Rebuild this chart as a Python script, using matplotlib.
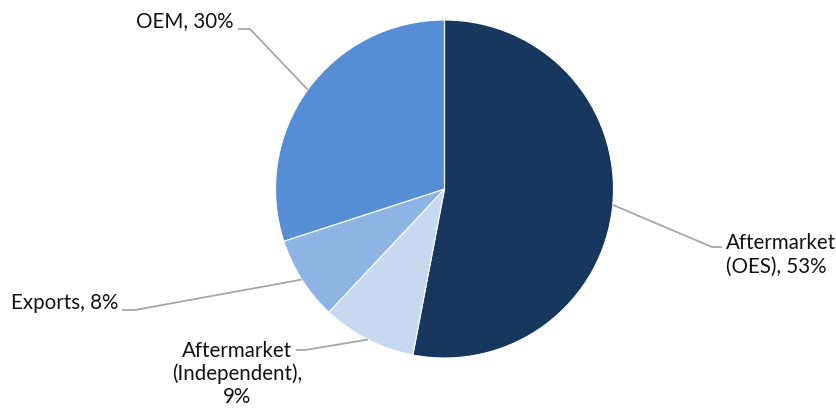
import numpy as np
import matplotlib
matplotlib.use("Agg")
import matplotlib.pyplot as plt

labels = ["Aftermarket\n(OES), 53%", "Aftermarket\n(Independent),\n9%", "Exports, 8%", "OEM, 30%"]
values = [53, 9, 8, 30]
colors = ["#17375e", "#c6d9f1", "#8eb4e3", "#558ed5"]

plt.rcParams['font.family'] = ['Lato', 'DejaVu Sans']

W, H = 837, 408
fig = plt.figure(figsize=(W / 100, H / 100), dpi=100)
ax = fig.add_axes([0, 0, 1, 1])

cx, cy, r = 444.5, 219, 169
wedges, _ = ax.pie(values, colors=colors, startangle=90, counterclock=False,
                   center=(cx, cy), radius=r, frame=True,
                   wedgeprops=dict(edgecolor="white", linewidth=0.8))
ax.set_xlim(0, W)
ax.set_ylim(0, H)
ax.set_aspect("equal")
ax.axis("off")

# label layout: (elbow x, elbow y, end x, text x, text y, ha, linespacing)
layout = [
    (712, H - 247, 722, 726, H - 255, "left", 1.25),
    (305, H - 350, 296, 237, H - 374, "center", 1.15),
    (135, H - 310, 122, 118, H - 303, "right", 1.25),
    (250, H - 29, 238, 234, H - 21, "right", 1.25),
]
lc = "#a6a6a6"
for w, lab, (ex, ey, tx, txx, tyy, ha, ls) in zip(wedges, labels, layout):
    ang = np.deg2rad((w.theta1 + w.theta2) / 2)
    px = cx + r * np.cos(ang)
    py = cy + r * np.sin(ang)
    ax.plot([px, ex, tx], [py, ey, ey], color=lc, lw=1.3, solid_capstyle="butt")
    ax.text(txx, tyy, lab, ha=ha, va="center", fontsize=14.8, color="#111111",
            linespacing=ls, multialignment="center" if ha == "center" else "left")

fig.savefig("out.png", dpi=100)
